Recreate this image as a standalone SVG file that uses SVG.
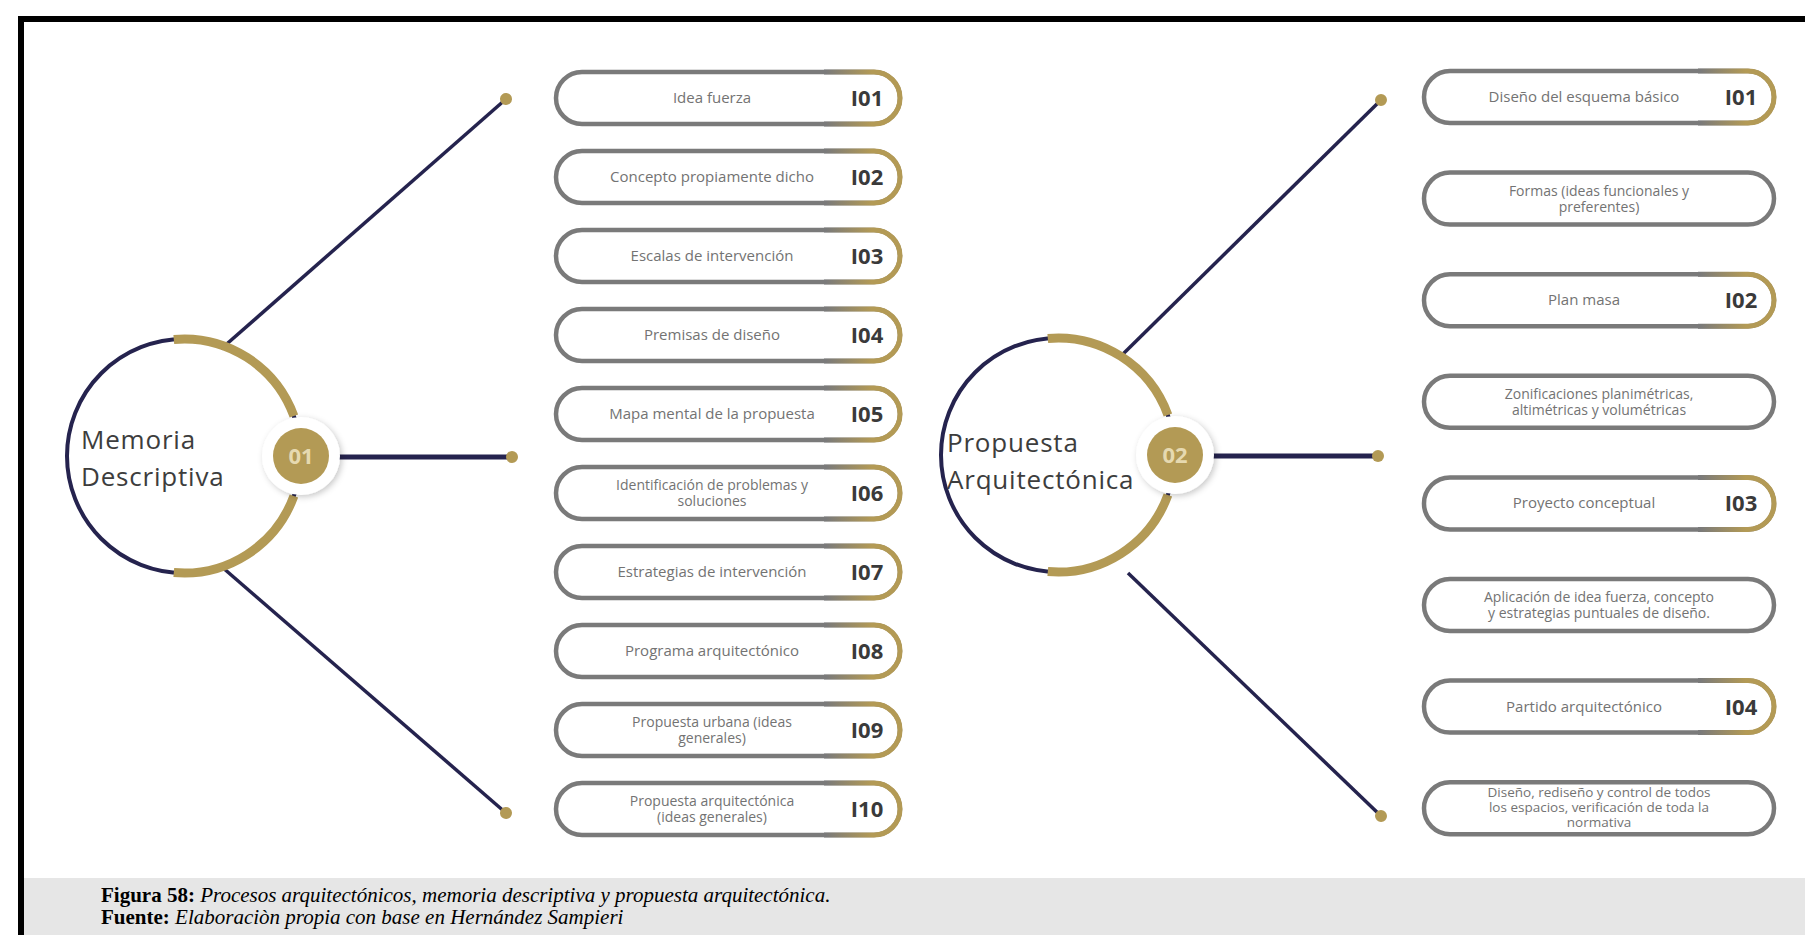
<svg xmlns="http://www.w3.org/2000/svg" width="1805" height="935" viewBox="0 0 1805 935">
<style>
.lbl{font-family:"Open Sans","Liberation Sans",sans-serif;font-size:15px;fill:#737373;text-anchor:middle}
.lbl2{font-family:"Open Sans","Liberation Sans",sans-serif;font-size:14px;fill:#737373;text-anchor:middle}
.num{font-family:"Open Sans","Liberation Sans",sans-serif;font-size:22px;font-weight:700;fill:#3a3a3a;text-anchor:middle}
.pill{fill:#fff;stroke:#7a7a7a;stroke-width:4.5}
.capL{fill:none;stroke:url(#capgL);stroke-width:5}
.capR{fill:none;stroke:url(#capgR);stroke-width:5}
.title{font-family:"Open Sans","Liberation Sans",sans-serif;font-size:26px;letter-spacing:0.8px;fill:#3d3d3d}
.navy{fill:none;stroke:#25234e;stroke-width:4}
.gold{fill:none;stroke:#b39a55;stroke-width:9}
.conn{fill:none;stroke:#25234e;stroke-width:3.5;marker-end:url(#dot)}
.badgetxt{font-family:"Open Sans","Liberation Sans",sans-serif;font-size:22px;font-weight:700;fill:#e6d9b0;text-anchor:middle}
.cap1{font-family:"Liberation Serif",serif;font-size:21px;fill:#000}
</style>
<defs>
<linearGradient id="capgL" gradientUnits="userSpaceOnUse" x1="270" y1="0" x2="316" y2="0">
<stop offset="0" stop-color="#7a7a7a"/>
<stop offset="1" stop-color="#b39a55"/>
</linearGradient>
<linearGradient id="capgR" gradientUnits="userSpaceOnUse" x1="276" y1="0" x2="322" y2="0">
<stop offset="0" stop-color="#7a7a7a"/>
<stop offset="1" stop-color="#b39a55"/>
</linearGradient>
<marker id="dot" markerUnits="userSpaceOnUse" markerWidth="16" markerHeight="16" refX="8" refY="8" orient="auto">
<circle cx="8" cy="8" r="6" fill="#b39a55"/>
</marker>
<filter id="sh" x="-50%" y="-50%" width="200%" height="200%">
<feDropShadow dx="2" dy="2" stdDeviation="3" flood-color="#000" flood-opacity="0.22"/>
</filter>
<rect id="pillL" class="pill" x="0" y="0" width="344" height="52" rx="26"/>
<path id="capL" class="capL" d="M268 0 H318 A26 26 0 0 1 318 52 H268"/>
<rect id="pillR" class="pill" x="0" y="0" width="350" height="52" rx="26"/>
<path id="capR" class="capR" d="M274 0 H324 A26 26 0 0 1 324 52 H274"/>
</defs>

<rect x="0" y="0" width="1805" height="935" fill="#fff"/>
<!-- frame -->
<rect x="18" y="16" width="1787" height="6" fill="#000"/>
<rect x="18" y="16" width="6" height="919" fill="#000"/>
<rect x="24" y="878" width="1781" height="57" fill="#e6e6e6"/>
<text class="cap1" x="101" y="902"><tspan font-weight="700">Figura 58:</tspan> <tspan font-style="italic">Procesos arquitectónicos, memoria descriptiva y propuesta arquitectónica.</tspan></text>
<text class="cap1" x="101" y="924"><tspan font-weight="700">Fuente:</tspan> <tspan font-style="italic">Elaboraciòn propia con base en Hernández Sampieri</tspan></text>

<g id="connectors">
<line class="conn" x1="221" y1="349" x2="506" y2="99"/>
<line class="conn" x1="320" y1="457" x2="512" y2="457" style="stroke-width:5"/>
<line class="conn" x1="222" y1="567" x2="506" y2="813"/>
<line class="conn" x1="1122" y1="355" x2="1381" y2="100"/>
<line class="conn" x1="1195" y1="456" x2="1378" y2="456" style="stroke-width:5"/>
<line class="conn" x1="1128" y1="573" x2="1381" y2="816"/>
</g>

<g id="memoria">
<circle class="navy" cx="184" cy="456" r="117"/>
<path class="gold" d="M173.8 339.4 A117 117 0 0 1 293.9 416"/>
<path class="gold" d="M293.9 496 A117 117 0 0 1 173.8 572.6"/>
<text class="title" x="81" y="449">Memoria</text>
<text class="title" x="81" y="486">Descriptiva</text>
<circle cx="301" cy="456" r="39" fill="#fff" filter="url(#sh)"/>
<circle cx="301" cy="456" r="28" fill="#b39a55"/>
<text class="badgetxt" x="301" y="464">01</text>
</g>

<g id="propuesta">
<circle class="navy" cx="1058" cy="455" r="117"/>
<path class="gold" d="M1047.8 338.4 A117 117 0 0 1 1167.9 415"/>
<path class="gold" d="M1167.9 495 A117 117 0 0 1 1047.8 571.6"/>
<text class="title" x="947" y="452">Propuesta</text>
<text class="title" x="947" y="489">Arquitectónica</text>
<circle cx="1175" cy="455" r="39" fill="#fff" filter="url(#sh)"/>
<circle cx="1175" cy="455" r="28" fill="#b39a55"/>
<text class="badgetxt" x="1175" y="463">02</text>
</g>

<!-- left column -->
<g id="m01" transform="translate(556,72)"><use href="#pillL"/><use href="#capL"/><text class="lbl" x="156" y="31">Idea fuerza</text><text class="num" x="311" y="34">I01</text></g>
<g id="m02" transform="translate(556,151)"><use href="#pillL"/><use href="#capL"/><text class="lbl" x="156" y="31">Concepto propiamente dicho</text><text class="num" x="311" y="34">I02</text></g>
<g id="m03" transform="translate(556,230)"><use href="#pillL"/><use href="#capL"/><text class="lbl" x="156" y="31">Escalas de intervención</text><text class="num" x="311" y="34">I03</text></g>
<g id="m04" transform="translate(556,309)"><use href="#pillL"/><use href="#capL"/><text class="lbl" x="156" y="31">Premisas de diseño</text><text class="num" x="311" y="34">I04</text></g>
<g id="m05" transform="translate(556,388)"><use href="#pillL"/><use href="#capL"/><text class="lbl" x="156" y="31">Mapa mental de la propuesta</text><text class="num" x="311" y="34">I05</text></g>
<g id="m06" transform="translate(556,467)"><use href="#pillL"/><use href="#capL"/><text class="lbl2" x="156" y="23">Identificación de problemas y</text><text class="lbl2" x="156" y="39">soluciones</text><text class="num" x="311" y="34">I06</text></g>
<g id="m07" transform="translate(556,546)"><use href="#pillL"/><use href="#capL"/><text class="lbl" x="156" y="31">Estrategias de intervención</text><text class="num" x="311" y="34">I07</text></g>
<g id="m08" transform="translate(556,625)"><use href="#pillL"/><use href="#capL"/><text class="lbl" x="156" y="31">Programa arquitectónico</text><text class="num" x="311" y="34">I08</text></g>
<g id="m09" transform="translate(556,704)"><use href="#pillL"/><use href="#capL"/><text class="lbl2" x="156" y="23">Propuesta urbana (ideas</text><text class="lbl2" x="156" y="39">generales)</text><text class="num" x="311" y="34">I09</text></g>
<g id="m10" transform="translate(556,783)"><use href="#pillL"/><use href="#capL"/><text class="lbl2" x="156" y="23">Propuesta arquitectónica</text><text class="lbl2" x="156" y="39">(ideas generales)</text><text class="num" x="311" y="34">I10</text></g>

<!-- right column -->
<g id="p01" transform="translate(1424,71)"><use href="#pillR"/><use href="#capR"/><text class="lbl" x="160" y="31">Diseño del esquema básico</text><text class="num" x="317" y="34">I01</text></g>
<g id="p02" transform="translate(1424,172.6)"><use href="#pillR"/><text class="lbl2" x="175" y="23">Formas (ideas funcionales y</text><text class="lbl2" x="175" y="39">preferentes)</text></g>
<g id="p03" transform="translate(1424,274.2)"><use href="#pillR"/><use href="#capR"/><text class="lbl" x="160" y="31">Plan masa</text><text class="num" x="317" y="34">I02</text></g>
<g id="p04" transform="translate(1424,375.8)"><use href="#pillR"/><text class="lbl2" x="175" y="23">Zonificaciones planimétricas,</text><text class="lbl2" x="175" y="39">altimétricas y volumétricas</text></g>
<g id="p05" transform="translate(1424,477.4)"><use href="#pillR"/><use href="#capR"/><text class="lbl" x="160" y="31">Proyecto conceptual</text><text class="num" x="317" y="34">I03</text></g>
<g id="p06" transform="translate(1424,579)"><use href="#pillR"/><text class="lbl2" x="175" y="23">Aplicación de idea fuerza, concepto</text><text class="lbl2" x="175" y="39">y estrategias puntuales de diseño.</text></g>
<g id="p07" transform="translate(1424,680.6)"><use href="#pillR"/><use href="#capR"/><text class="lbl" x="160" y="31">Partido arquitectónico</text><text class="num" x="317" y="34">I04</text></g>
<g id="p08" transform="translate(1424,782.2)"><use href="#pillR"/><text class="lbl2" x="175" y="15" style="font-size:13.5px">Diseño, rediseño y control de todos</text><text class="lbl2" x="175" y="30" style="font-size:13.5px">los espacios, verificación de toda la</text><text class="lbl2" x="175" y="45" style="font-size:13.5px">normativa</text></g>
</svg>
